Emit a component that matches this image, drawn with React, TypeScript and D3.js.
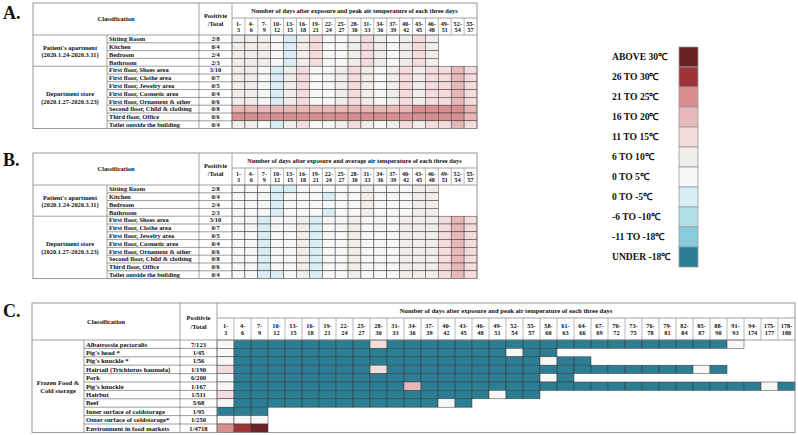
import React from "react";
import * as d3 from "d3";

const legendLabels = [
  "ABOVE 30℃", "26 TO 30℃", "21 TO 25℃", "16 TO 20℃", "11 TO 15℃", "6 TO 10℃",
  "0 TO 5℃", "0 TO -5℃", "-6 TO -10℃", "-11 TO -18℃", "UNDER -18℃",
];
const legendColors = [
  "#6a2124", "#9d3537", "#d98e8f", "#e8b7b8", "#f4dcdc", "#f0edea",
  "#f7f8f5", "#d9eef4", "#b4e0ea", "#89cddc", "#2b7e93",
];

const dayColsAB = [
  "1-3", "4-6", "7-9", "10-12", "13-15", "16-18", "19-21", "22-24", "25-27", "28-30",
  "31-33", "34-36", "37-39", "40-42", "43-45", "46-48", "49-51", "52-54", "55-57",
];
const dayColsC = [
  "1-3", "4-6", "7-9", "10-12", "13-15", "16-18", "19-21", "22-24", "25-27", "28-30",
  "31-33", "34-36", "37-39", "40-42", "43-45", "46-48", "49-51", "52-54", "55-57",
  "58-60", "61-63", "64-66", "67-69", "70-72", "73-75", "76-78", "79-81", "82-84",
  "85-87", "88-90", "91-93", "94-174", "175-177", "178-180",
];

const aptLabel = ["Patient's apartment", "(2020.1.24-2020.3.11)"];
const storeLabel = ["Department store", "(2020.1.27-2020.3.23)"];
const aptRooms = ["Sitting Room", "Kitchen", "Bedroom", "Bathroom"];
const aptPositive = ["2/8", "0/4", "2/4", "2/3"];
const storeAreas = [
  "First floor, Shoes area", "First floor, Clothe area", "First floor, Jewelry area",
  "First floor, Cosmetic area", "First floor, Ornament & other",
  "Second floor, Child & clothing", "Third floor, Office", "Toilet outside the building",
];
const storePositive = ["3/10", "0/7", "0/5", "0/4", "0/6", "0/8", "0/6", "0/4"];

// legend index per cell (0 = ABOVE 30 ... 10 = UNDER -18)
const peakAptLevels = [
  [5, 5, 5, 6, 7, 5, 4, 6, 6, 5, 4, 5, 6, 5, 4, 5],
  [5, 5, 5, 6, 7, 5, 4, 6, 6, 5, 4, 5, 6, 5, 4, 5],
  [5, 5, 5, 6, 7, 5, 4, 6, 6, 5, 4, 5, 6, 5, 4, 5],
  [5, 5, 5, 6, 7, 5, 4, 6, 6, 5, 4, 5, 6, 5, 4, 5],
];
const peakStoreLevels = [
  [5, 5, 6, 7, 5, 4, 6, 6, 5, 4, 5, 6, 5, 4, 5, 4, 4, 3, 4],
  [5, 5, 6, 7, 5, 4, 6, 6, 5, 4, 5, 6, 5, 4, 5, 4, 4, 3, 4],
  [5, 5, 6, 7, 5, 4, 6, 6, 5, 4, 5, 6, 5, 4, 5, 4, 4, 3, 4],
  [5, 5, 6, 7, 5, 4, 6, 6, 5, 4, 5, 6, 5, 4, 5, 4, 4, 3, 4],
  [5, 5, 6, 7, 5, 4, 6, 6, 5, 4, 5, 6, 5, 4, 5, 4, 4, 3, 4],
  [3, 3, 3, 3, 3, 3, 3, 3, 3, 3, 3, 3, 3, 3, 2, 2, 2, 2, 3],
  [2, 2, 2, 2, 2, 2, 2, 2, 2, 2, 2, 2, 2, 2, 2, 2, 2, 2, 3],
  [5, 5, 6, 7, 5, 4, 6, 6, 5, 4, 5, 6, 5, 4, 5, 4, 4, 3, 4],
];
const avgAptLevels = [
  [6, 6, 6, 7, 7, 6, 6, 6, 6, 6, 5, 6, 6, 6, 5, 5],
  [6, 6, 6, 7, 6, 6, 6, 7, 6, 6, 5, 6, 6, 6, 5, 5],
  [6, 6, 6, 7, 6, 6, 6, 6, 6, 6, 5, 6, 6, 6, 5, 5],
  [6, 6, 6, 7, 6, 6, 6, 7, 6, 6, 5, 6, 6, 6, 5, 5],
];
const avgStoreLevels = [
  [6, 6, 7, 6, 6, 5, 7, 6, 6, 5, 6, 6, 6, 5, 5, 5, 4, 3, 4],
  [6, 6, 7, 6, 6, 5, 7, 6, 6, 5, 6, 6, 6, 5, 5, 5, 4, 3, 4],
  [6, 6, 7, 6, 6, 5, 7, 6, 6, 5, 6, 6, 6, 5, 5, 5, 4, 3, 4],
  [6, 6, 7, 6, 6, 5, 7, 6, 6, 5, 6, 6, 6, 5, 5, 5, 4, 3, 4],
  [6, 6, 7, 6, 6, 5, 7, 6, 6, 5, 6, 6, 6, 5, 5, 5, 4, 3, 4],
  [6, 6, 7, 6, 6, 5, 7, 6, 6, 5, 6, 6, 6, 5, 5, 5, 4, 3, 4],
  [6, 6, 7, 6, 6, 5, 7, 6, 6, 5, 6, 6, 6, 5, 5, 5, 4, 3, 4],
  [6, 6, 7, 7, 6, 5, 7, 6, 6, 5, 6, 6, 6, 5, 5, 5, 4, 3, 4],
];

const frozenLabel = ["Frozen Food &", "Cold storage"];
const frozenItems = [
  "Albatrossia pectoralis", "Pig's head *", "Pig's knuckle *", "Hairtail (Trichiurus haumela)",
  "Pork", "Pig's knuckle", "Hairbut", "Beef", "Inner surface of coldstorage",
  "Outer surface of coldstorage*", "Environment in food markets",
];
const frozenPositive = ["7/123", "1/45", "1/56", "1/190", "6/200", "1/167", "1/511", "5/68", "1/95", "1/250", "1/4718"];
const frozenLevels = [
  [6, 10, 10, 10, 10, 10, 10, 10, 10, 4, 10, 10, 10, 10, 10, 10, 10, 10, 10, 10, 10, 10, 10, 10, 10, 10, 10, 10, 10, 10, 6],
  [6, 10, 10, 10, 10, 10, 10, 10, 10, 10, 10, 10, 10, 10, 10, 10, 10, 6, 10, 10],
  [6, 10, 10, 10, 10, 10, 10, 10, 10, 10, 10, 10, 10, 10, 10, 10, 10, 10, 10, 6, 10, 10],
  [4, 10, 10, 10, 10, 10, 10, 10, 10, 4, 10, 10, 10, 10, 10, 10, 10, 10, 10, 10, 10, 10, 10, 10, 10, 10, 10, 10, 6, 10],
  [6, 10, 10, 10, 10, 10, 10, 10, 10, 10, 10, 10, 10, 10, 10, 10, 10, 10, 10, 6, 10],
  [6, 10, 10, 10, 10, 10, 10, 10, 10, 10, 10, 3, 10, 10, 10, 10, 10, 10, 10, 10, 10, 10, 10, 10, 10, 10, 10, 10, 10, 10, 10, 10, 6, 10],
  [4, 10, 10, 10, 10, 10, 10, 10, 10, 10, 10, 10, 10, 10, 10, 10, 6, 10, 10],
  [6, 10, 10, 10, 10, 10, 10, 10, 10, 10, 10, 10, 10, 6, 10],
  [10, 10, 10],
  [6, 6, 6],
  [2, 1, 0],
];

const FONT = "'Liberation Serif', 'Times New Roman', serif";
const GRID = "#3a3a3a";
const FRAME = "#8a8a8a";

type Row = { name: string; pos: string; levels: number[] };
type Group = { label: string[]; rows: Row[] };

function Table(props: {
  top: number; left: number; subX: number; posX: number; daysX: number; right: number;
  h1: number; h2: number; rowH: number; title: string; dayCols: string[]; groups: Group[];
  fs: number;
}) {
  const { top, left, subX, posX, daysX, right, h1, h2, rowH, title, dayCols, groups, fs } = props;
  const allRows = groups.flatMap((g) => g.rows);
  const hdrB = top + h1 + h2;
  const bottom = hdrB + rowH * allRows.length;
  const x = d3.scaleBand<string>().domain(dayCols).range([daysX, right]);
  const y = d3.scaleBand<number>().domain(d3.range(allRows.length)).range([hdrB, bottom]);
  const color = d3.scaleOrdinal<number, string>().domain(d3.range(legendColors.length)).range(legendColors);
  const txt = { fontFamily: FONT, fontWeight: 700, fontSize: fs, fill: "#111" } as const;
  const els: React.ReactNode[] = [];
  let k = 0;
  // cells
  allRows.forEach((r, i) => {
    r.levels.forEach((lv, j) => {
      els.push(
        <rect key={k++} x={x(dayCols[j])} y={y(i)} width={x.bandwidth()} height={y.bandwidth()}
          fill={color(lv)} stroke={GRID} strokeWidth={0.5} />
      );
    });
  });
  // header
  els.push(<text key={k++} {...txt} x={(left + posX) / 2} y={top + (h1 + h2) / 2 + fs * 0.35} textAnchor="middle">Classification</text>);
  els.push(<text key={k++} {...txt} x={(posX + daysX) / 2} y={top + (h1 + h2) / 2 - 1.5} textAnchor="middle">Positivie</text>);
  els.push(<text key={k++} {...txt} x={(posX + daysX) / 2} y={top + (h1 + h2) / 2 + fs + 0.5} textAnchor="middle">/Total</text>);
  els.push(<text key={k++} {...txt} x={(daysX + right) / 2} y={top + h1 / 2 + fs * 0.35} textAnchor="middle">{title}</text>);
  els.push(<line key={k++} x1={daysX} x2={right} y1={top + h1} y2={top + h1} stroke={FRAME} strokeWidth={0.8} />);
  dayCols.forEach((c, j) => {
    const [a, b] = c.split("-");
    const cx = (x(c) as number) + x.bandwidth() / 2;
    if (j > 0) els.push(<line key={k++} x1={x(c)} x2={x(c)} y1={top + h1} y2={hdrB} stroke={FRAME} strokeWidth={0.6} />);
    els.push(<text key={k++} {...txt} fontSize={fs * 0.95} x={cx} y={top + h1 + h2 / 2 - 0.8} textAnchor="middle">{a + "-"}</text>);
    els.push(<text key={k++} {...txt} fontSize={fs * 0.95} x={cx} y={top + h1 + h2 / 2 + fs * 0.95 - 0.3} textAnchor="middle">{b}</text>);
  });
  els.push(<line key={k++} x1={left} x2={right} y1={hdrB} y2={hdrB} stroke={FRAME} strokeWidth={0.8} />);
  els.push(<line key={k++} x1={posX} x2={posX} y1={top} y2={bottom} stroke={FRAME} strokeWidth={0.8} />);
  els.push(<line key={k++} x1={daysX} x2={daysX} y1={top} y2={bottom} stroke={FRAME} strokeWidth={0.8} />);
  els.push(<line key={k++} x1={subX} x2={subX} y1={hdrB} y2={bottom} stroke={FRAME} strokeWidth={0.8} />);
  // groups and rows
  let idx = 0;
  groups.forEach((g) => {
    const y0 = y(idx) as number;
    const y1 = y0 + rowH * g.rows.length;
    if (idx > 0) els.push(<line key={k++} x1={left} x2={daysX} y1={y0} y2={y0} stroke={FRAME} strokeWidth={0.8} />);
    const mid = (y0 + y1) / 2;
    els.push(<text key={k++} {...txt} x={(left + subX) / 2} y={mid - 1} textAnchor="middle">{g.label[0]}</text>);
    els.push(<text key={k++} {...txt} x={(left + subX) / 2} y={mid + fs + 0.2} textAnchor="middle">{g.label[1]}</text>);
    g.rows.forEach((r, i) => {
      const ry = y(idx + i) as number;
      if (i > 0) els.push(<line key={k++} x1={subX} x2={daysX} y1={ry} y2={ry} stroke={GRID} strokeWidth={0.5} />);
      els.push(<text key={k++} {...txt} x={subX + 2} y={ry + rowH / 2 + fs * 0.35}>{r.name}</text>);
      els.push(<text key={k++} {...txt} x={(posX + daysX) / 2} y={ry + rowH / 2 + fs * 0.35} textAnchor="middle">{r.pos}</text>);
    });
    idx += g.rows.length;
  });
  els.push(<rect key={k++} x={left} y={top} width={right - left} height={bottom - top} fill="none" stroke={FRAME} strokeWidth={0.9} />);
  return <g>{els}</g>;
}

function mkGroups(aptL: number[][], storeL: number[][]): Group[] {
  return [
    { label: aptLabel, rows: aptRooms.map((n, i) => ({ name: n, pos: aptPositive[i], levels: aptL[i] })) },
    { label: storeLabel, rows: storeAreas.map((n, i) => ({ name: n, pos: storePositive[i], levels: storeL[i] })) },
  ];
}

function Legend() {
  const y = d3.scaleBand<number>().domain(d3.range(legendLabels.length)).range([47, 267]);
  return (
    <g>
      {legendLabels.map((l, i) => (
        <g key={i}>
          <rect x={679} y={y(i)} width={19} height={y.bandwidth()} fill={legendColors[i]} stroke="#9a9a9a" strokeWidth={0.8} />
          <text x={612} y={(y(i) as number) + y.bandwidth() / 2 + 3.4} fontFamily={FONT} fontWeight={700} fontSize={9.6} fill="#111">{l}</text>
        </g>
      ))}
    </g>
  );
}

export default function App() {
  const panel = { fontFamily: FONT, fontWeight: 700, fontSize: 18, fill: "#111" } as const;
  return (
    <div style={{ position: "absolute", left: 0, top: 0 }}>
      <svg width={798} height={435} style={{ display: "block", background: "#fff" }}>
        <text {...panel} x={3} y={19}>A.</text>
        <text {...panel} x={3} y={166}>B.</text>
        <text {...panel} x={3} y={317}>C.</text>
        <Table top={3} left={33} subX={107} posX={199} daysX={232} right={477} h1={15} h2={17} rowH={7.8}
          title="Number of days after exposure and peak air temperature of each three days"
          dayCols={dayColsAB} groups={mkGroups(peakAptLevels, peakStoreLevels)} fs={6.4} />
        <Table top={153} left={33} subX={107} posX={199} daysX={232} right={477} h1={15} h2={17} rowH={7.8}
          title="Number of days after exposure and average air temperature of each three days"
          dayCols={dayColsAB} groups={mkGroups(avgAptLevels, avgStoreLevels)} fs={6.4} />
        <Table top={303} left={32} subX={84} posX={180} daysX={217} right={795} h1={15} h2={22} rowH={8.4}
          title="Number of days after exposure and peak air temperature of each three days"
          dayCols={dayColsC}
          groups={[{ label: frozenLabel, rows: frozenItems.map((n, i) => ({ name: n, pos: frozenPositive[i], levels: frozenLevels[i] })) }]}
          fs={6.6} />
        <Legend />
      </svg>
    </div>
  );
}
